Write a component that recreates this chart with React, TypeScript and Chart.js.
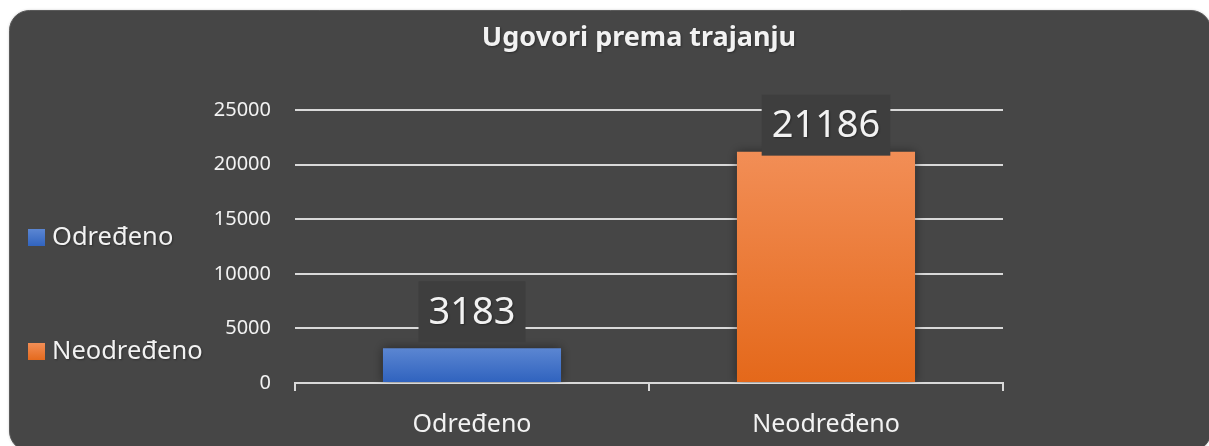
import React, { useEffect, useRef } from "react";
import { Chart, registerables } from "chart.js";

Chart.register(...registerables);

const TITLE = "Ugovori prema trajanju";
const categories = ["Određeno", "Neodređeno"];
const seriesNames = ["Određeno", "Neodređeno"];
const values = [3183, 21186];
const yTickValues = [0, 5000, 10000, 15000, 20000, 25000];

const W = 1209;
const H = 446;
const FONT = "'Noto Sans', 'Open Sans', sans-serif";
const TEXT = "#f2f2f2";
const CARD = "#464646";
const GRID = "#d9d9d9";
const LABEL_BOX = "#3e3e3e";
const TOPS = ["#5b86d2", "#f28e56"];
const BOTTOMS = ["#2f62be", "#e4681a"];
const LABEL_SHIFT = [-6, 4];

const cardPlugin = {
  id: "card",
  beforeDraw(chart: any) {
    const c = chart.ctx;
    c.save();
    c.fillStyle = "#ffffff";
    c.fillRect(0, 0, W, H);
    c.beginPath();
    (c as any).roundRect(9.5, 10.5, 1211 - 9.5, 451 - 10.5, 20);
    c.fillStyle = CARD;
    c.shadowColor = "rgba(0,0,0,0.25)";
    c.shadowBlur = 3;
    c.fill();
    c.shadowColor = "transparent";
    c.strokeStyle = "#5a5a5a";
    c.lineWidth = 1;
    c.stroke();
    c.restore();
  },
  beforeDatasetsDraw(chart: any) {
    const c = chart.ctx;
    c.save();
    c.shadowColor = "rgba(0,0,0,0.45)";
    c.shadowBlur = 10;
    c.shadowOffsetX = 0;
    c.shadowOffsetY = 0;
  },
  afterDatasetsDraw(chart: any) {
    chart.ctx.restore();
  },
};

const overlayPlugin = {
  id: "overlay",
  afterDraw(chart: any) {
    const c = chart.ctx;
    c.save();
    c.shadowColor = "rgba(0,0,0,0.35)";
    c.shadowBlur = 2;
    c.shadowOffsetX = 1;
    c.shadowOffsetY = 1;
    // title
    c.fillStyle = TEXT;
    c.font = `bold 27px ${FONT}`;
    c.textAlign = "center";
    c.textBaseline = "middle";
    c.fillText(TITLE, 639, 38);

    // legend
    const legendY = [238, 352];
    seriesNames.forEach((name, i) => {
      const y = legendY[i];
      c.shadowColor = "transparent";
      const g = c.createLinearGradient(0, y - 9, 0, y + 9);
      g.addColorStop(0, TOPS[i]);
      g.addColorStop(1, BOTTOMS[i]);
      c.fillStyle = g;
      c.fillRect(28, y - 9, 17, 17);
      c.shadowColor = "rgba(0,0,0,0.35)";
      c.fillStyle = TEXT;
      c.font = `25.5px ${FONT}`;
      c.textAlign = "left";
      c.textBaseline = "middle";
      c.fillText(name, 52, y);
    });

    // data labels
    const meta = chart.getDatasetMeta(0);
    c.font = `38px ${FONT}`;
    meta.data.forEach((bar: any, i: number) => {
      const txt = String(values[i]);
      const tw = c.measureText(txt).width;
      const bw = tw + 20;
      const bh = 61;
      const bottom = bar.y + LABEL_SHIFT[i];
      c.shadowColor = "transparent";
      c.fillStyle = LABEL_BOX;
      c.fillRect(bar.x - bw / 2, bottom - bh, bw, bh);
      c.fillStyle = TEXT;
      c.textAlign = "center";
      c.textBaseline = "middle";
      c.shadowColor = "rgba(0,0,0,0.35)";
      c.fillText(txt, bar.x, bottom - bh / 2 + 1);
    });
    c.restore();
  },
};

export default function App() {
  const ref = useRef<HTMLCanvasElement | null>(null);
  useEffect(() => {
    if (!ref.current) return;
    const chart = new Chart(ref.current, {
      type: "bar",
      data: {
        labels: categories,
        datasets: [
          {
            label: "Ugovori",
            data: values,
            categoryPercentage: 1,
            barPercentage: 0.503,
            backgroundColor: (ctx: any) => {
              const i = ctx.dataIndex ?? 0;
              const ys = ctx.chart.scales?.y;
              if (!ys || ctx.type !== "data") return TOPS[i];
              const top = ys.getPixelForValue(ctx.raw);
              const bot = ys.getPixelForValue(0);
              if (!isFinite(top) || !isFinite(bot) || top === bot) return TOPS[i];
              const g = ctx.chart.ctx.createLinearGradient(0, top, 0, bot);
              g.addColorStop(0, TOPS[i]);
              g.addColorStop(1, BOTTOMS[i]);
              return g;
            },
          } as any,
        ],
      },
      options: {
        responsive: false,
        animation: false,
        devicePixelRatio: 1,
        layout: { padding: { left: 0, right: W - 1003, top: 110, bottom: 0 } },
        plugins: {
          legend: { display: false },
          title: { display: false },
          tooltip: { enabled: false },
        },
        scales: {
          x: {
            grid: {
              offset: true,
              drawOnChartArea: false,
              drawTicks: true,
              tickLength: 8,
              color: GRID,
              lineWidth: 2,
            },
            border: { display: true, color: GRID, width: 2 },
            ticks: { color: TEXT, font: { family: FONT, size: 25 }, padding: 19 },
            afterFit: (s: any) => {
              s.height = H - 383;
            },
          },
          y: {
            min: 0,
            max: 25000,
            afterBuildTicks: (s: any) => {
              s.ticks = yTickValues.map((v) => ({ value: v }));
            },
            grid: { color: GRID, lineWidth: 2, drawTicks: false },
            border: { display: false },
            ticks: {
              color: TEXT,
              font: { family: FONT, size: 20 },
              padding: 24,
              callback: (v: any) => String(v),
            },
            afterFit: (s: any) => {
              s.width = 295;
            },
          },
        },
      } as any,
      plugins: [cardPlugin, overlayPlugin],
    });
    return () => chart.destroy();
  }, []);
  return (
    <div style={{ position: "fixed", left: 0, top: 0, width: W, height: H }}>
      <canvas ref={ref} width={W} height={H} style={{ width: W, height: H, display: "block" }} />
    </div>
  );
}
